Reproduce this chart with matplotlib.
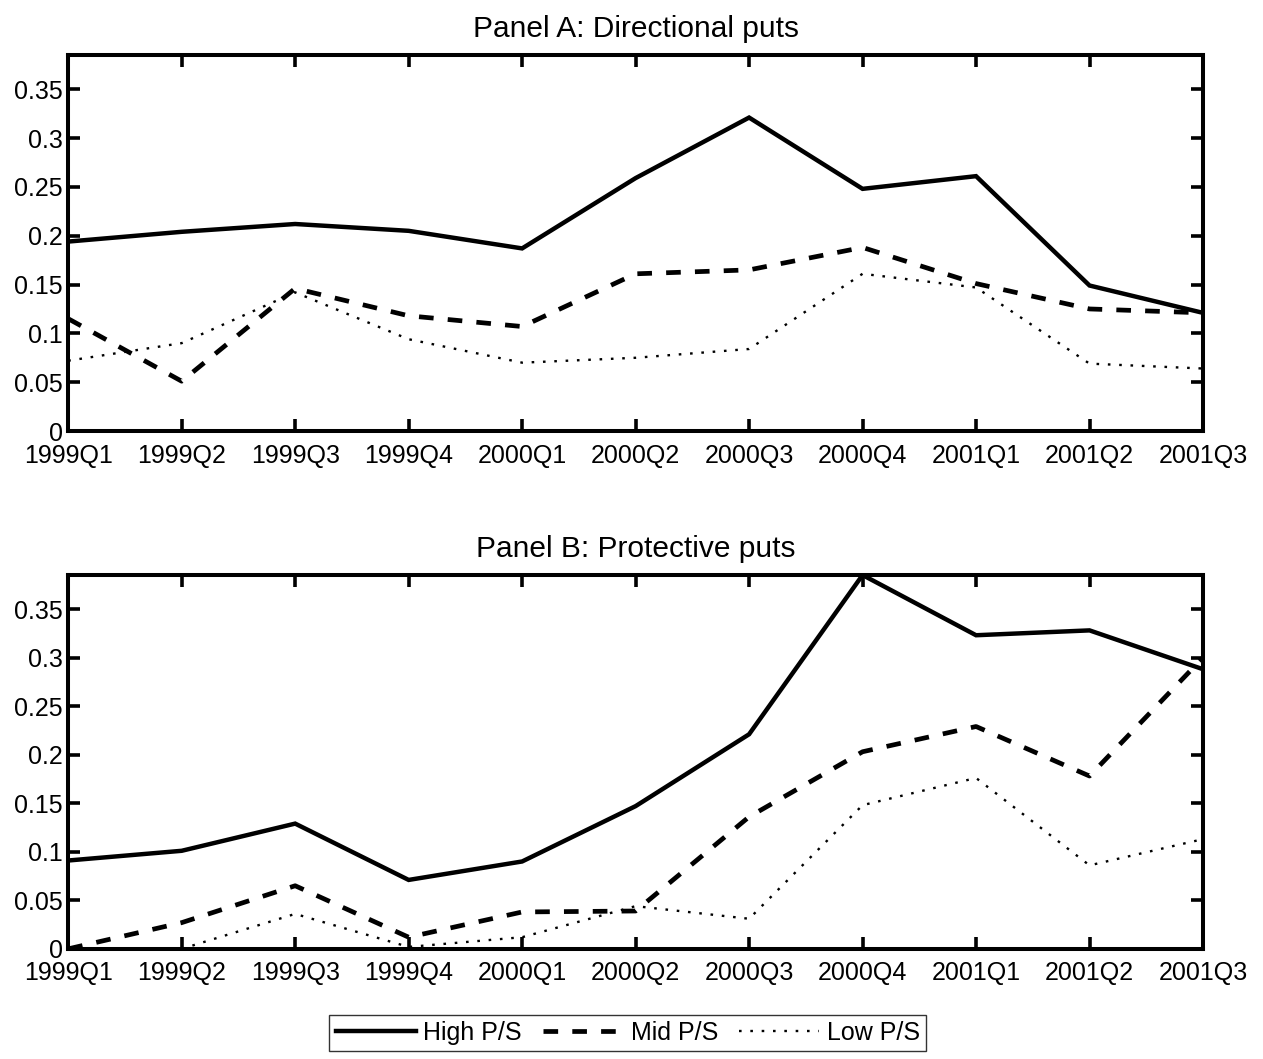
import matplotlib
matplotlib.use("Agg")
import matplotlib.pyplot as plt
import numpy as np

plt.rcParams['font.family'] = ['Liberation Sans', 'DejaVu Sans']

quarters = ['1999Q1', '1999Q2', '1999Q3', '1999Q4', '2000Q1', '2000Q2',
            '2000Q3', '2000Q4', '2001Q1', '2001Q2', '2001Q3']

# Panel A: directional puts
a_high = [0.194, 0.204, 0.212, 0.205, 0.187, 0.259, 0.321, 0.248, 0.261, 0.149, 0.121]
a_mid = [0.115, 0.051, 0.146, 0.118, 0.107, 0.161, 0.165, 0.188, 0.151, 0.125, 0.121]
a_low = [0.072, 0.090, 0.142, 0.094, 0.070, 0.075, 0.084, 0.161, 0.147, 0.069, 0.064]

# Panel B: protective puts
b_high = [0.091, 0.101, 0.129, 0.071, 0.090, 0.147, 0.221, 0.385, 0.323, 0.328, 0.288]
b_mid = [0.000, 0.027, 0.065, 0.012, 0.038, 0.039, 0.136, 0.203, 0.229, 0.178, 0.300]
b_low = [0.000, 0.000, 0.036, 0.002, 0.012, 0.044, 0.031, 0.148, 0.176, 0.086, 0.113]

yticks = [0, 0.05, 0.1, 0.15, 0.2, 0.25, 0.3, 0.35]
ytick_labels = ['0', '0.05', '0.1', '0.15', '0.2', '0.25', '0.3', '0.35']

fs = 18
fig = plt.figure(figsize=(12.63, 10.59), dpi=100)
axA = fig.add_axes([0.054, 0.593, 0.8985, 0.355])
axB = fig.add_axes([0.054, 0.104, 0.8985, 0.353])

x = np.arange(len(quarters))
panels = [(axA, 'Panel A: Directional puts', a_high, a_mid, a_low),
          (axB, 'Panel B: Protective puts', b_high, b_mid, b_low)]

for ax, title, hi, mid, lo in panels:
    ax.plot(x, hi, color='black', lw=3.2, solid_joinstyle='miter', label='High P/S')
    ax.plot(x, mid, color='black', lw=3.4, dashes=(3.1, 3.0), label='Mid P/S')
    ax.plot(x, lo, color='black', lw=1.7, dashes=(1.1, 3.7), label='Low P/S')
    ax.set_xlim(0, len(quarters) - 1)
    ax.set_ylim(0, 0.385)
    ax.set_xticks(x)
    ax.set_xticklabels(quarters)
    ax.set_yticks(yticks)
    ax.set_yticklabels(ytick_labels)
    ax.tick_params(direction='in', top=True, right=True, length=8.5, width=2.6,
                   labelsize=fs)
    ax.tick_params(axis='x', pad=9)
    ax.tick_params(axis='y', pad=4)
    for s in ax.spines.values():
        s.set_linewidth(2.9)
    ax.set_title(title, fontsize=21.5, pad=13)

handles, labels = axB.get_legend_handles_labels()
leg = fig.legend(handles, labels, loc='center', bbox_to_anchor=(0.497, 0.0245),
                 ncol=3, fontsize=fs, frameon=True, fancybox=False,
                 handlelength=3.2, handletextpad=0.3, columnspacing=0.85,
                 borderpad=0.25, borderaxespad=0)
leg.get_frame().set_edgecolor('black')
leg.get_frame().set_linewidth(1.0)

fig.savefig('out.png', dpi=100)
